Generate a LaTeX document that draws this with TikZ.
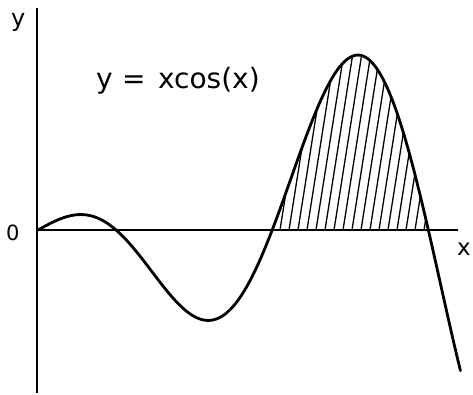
\documentclass[tikz,border=0pt]{standalone}
\usepackage{fontspec}
\setmainfont{DejaVu Sans}
\begin{document}
\begin{tikzpicture}[x=1pt,y=-1pt,
  curve/.style={line width=2.8pt, line join=round, line cap=round},
  axis/.style={line width=1.3pt},
  hatch/.style={line width=1.3pt},
  lbl/.style={inner sep=0pt, anchor=base west}]
\useasboundingbox (0,0) rectangle (473,395);
% axes
\coordinate (ytop) at (37,8);
\coordinate (ybot) at (37,393);
\coordinate (O) at (37,230);
\coordinate (xend) at (458,230);
\draw[axis] (ytop) -- (ybot);
\draw[axis] (O) -- (xend);
% hatching
\begin{scope}
  \clip plot[domain=4.7124:7.854, samples=120] ({38+49.7*\x},{230-27.5*\x*cos(\x r)}) -- cycle;
  \foreach \k in {0,...,20} {
    \draw[hatch] (262+9*\k,230) -- ++(30,-190);
  }
\end{scope}
% curve
\draw[curve] plot[domain=0:8.5, samples=300] ({38+49.7*\x},{230-27.5*\x*cos(\x r)});
% labels
\node[lbl, font=\fontsize{24}{28}\selectfont] (ylab) at (11,27) {y};
\node[lbl, font=\fontsize{21}{25}\selectfont] (zero) at (6,240) {0};
\node[lbl, font=\fontsize{23}{27}\selectfont] (xlab) at (457,255) {x};
\node[lbl, font=\fontsize{28}{32}\selectfont] (eq) at (96,89) {y\hspace{0.33em}=\hspace{0.45em}xcos(x)};
\end{tikzpicture}
\end{document}
